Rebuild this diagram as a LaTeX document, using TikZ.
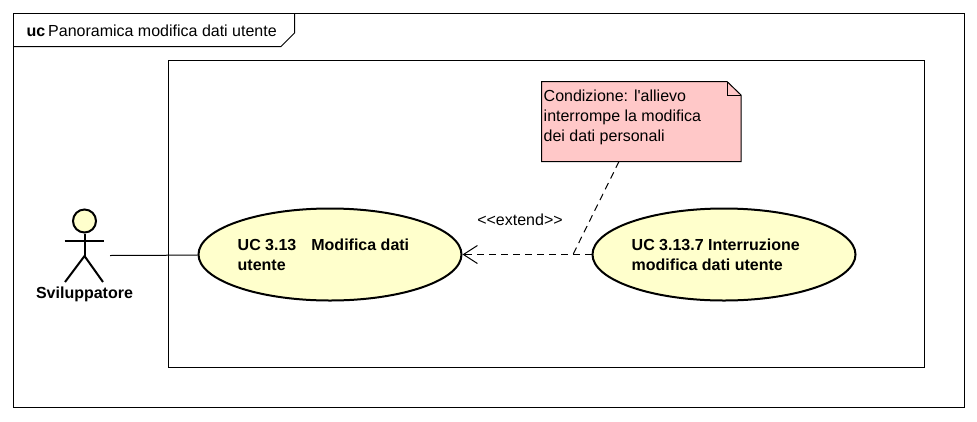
\documentclass[tikz,border=0pt]{standalone}
\usepackage{fontspec}
\setmainfont{Liberation Sans}[Ligatures=TeXOff]
\usetikzlibrary{positioning}
\usetikzlibrary{arrows.meta,shapes}
\usetikzlibrary{calc}
\definecolor{ucyellow}{RGB}{255,255,204}
\definecolor{notered}{RGB}{255,200,200}
\tikzstyle{usecase}=[ellipse,fill=ucyellow,draw=black,line width=2pt,minimum width=263pt,minimum height=92pt,inner sep=0pt]
\tikzstyle{boxframe}=[rectangle,draw=black,line width=1pt,inner sep=0pt]
\tikzstyle{uclabel}=[font=\fontsize{16}{20}\selectfont\bfseries,align=left,anchor=north west,inner sep=0pt]
\tikzstyle{plainlabel}=[font=\fontsize{16}{20}\selectfont,align=left,inner sep=0pt]
\tikzstyle{undirectededge} = [draw,line width=1pt]
\tikzstyle{dashededge} = [draw,line width=1pt,dash pattern=on 7pt off 5pt]

\begin{document}
\begin{tikzpicture}[x=1pt,y=-1pt]
    \useasboundingbox (0,0) rectangle (977,421);
    % frame and system box
    \node[boxframe,minimum width=951pt,minimum height=393.5pt,anchor=north west] (frame) at (13,13) {};
    \node[boxframe,minimum width=756pt,minimum height=307pt,anchor=north west] (system) at (168,60) {};

    % frame tab
    \node[plainlabel,anchor=base west] (title) at (48,36.5) {Panoramica modifica dati utente};
    \node[uclabel,anchor=base east] (kind) at (45.5,36.5) {uc};
    \coordinate (tabA) at (294.5,13);
    \coordinate (tabB) at (294.5,33);
    \coordinate (tabC) at (281,46.5);
    \coordinate (tabD) at (13,46.5);
    \draw[line width=1pt] (tabA) -- (tabB) -- (tabC) -- (tabD);

    % actor
    \node[circle,fill=ucyellow,draw=black,line width=2pt,minimum size=23pt,inner sep=0pt] (head) at (84.5,221) {};
    \coordinate (hip) at (84.5,256);
    \coordinate (armL) at (64.5,241);
    \coordinate (armR) at (104,241);
    \coordinate (legL) at (65,282);
    \coordinate (legR) at (103,282);
    \draw[line width=2pt] (head) -- (hip);
    \draw[line width=2pt] (armL) -- (armR);
    \draw[line width=2pt] (legL) -- (hip) -- (legR);
    \node[uclabel,anchor=center] (actor) at (84.5,294) {Sviluppatore};
    \coordinate (actorend) at (110,255.5);

    % use cases
    \node[usecase] (modifica) at (330,254.5) {};
    \node[usecase] (interruzione) at (724,254.5) {};
    \node[uclabel] (modificatext) at (237.5,239) {UC 3.13\hspace{15pt}Modifica dati\\utente};
    \node[uclabel] (interruzionetext) at (631.5,239) {UC 3.13.7 Interruzione\\modifica dati utente};

    % note
    \coordinate (noteA) at (541.5,81.5);
    \coordinate (noteB) at (727,81.5);
    \coordinate (noteC) at (741,95);
    \coordinate (noteD) at (741,161.5);
    \coordinate (noteE) at (541.5,161.5);
    \coordinate (foldC) at (727,95);
    \filldraw[fill=notered,draw=black,line width=1pt] (noteA) -- (noteB) -- (noteC) -- (noteD) -- (noteE) -- cycle;
    \draw[line width=1pt] (noteB) -- (foldC) -- (noteC);
    \node[plainlabel,anchor=north west] (notetext) at (543.5,90) {Condizione: l'allievo\\interrompe la modifica\\dei dati personali};

    % connectors
    \path[undirectededge] (actorend) -- (modifica);
    \path[dashededge,-{Straight Barb[length=14pt,width=18pt,line width=1pt]}] (interruzione) -- (modifica);
    \coordinate (noteend) at (619,161.5);
    \coordinate (linkend) at (573,254.5);
    \path[dashededge] (noteend) -- (linkend);
    \node[plainlabel] (extend) at (520,220) {<{}<extend>{}>};
\end{tikzpicture}
\end{document}
